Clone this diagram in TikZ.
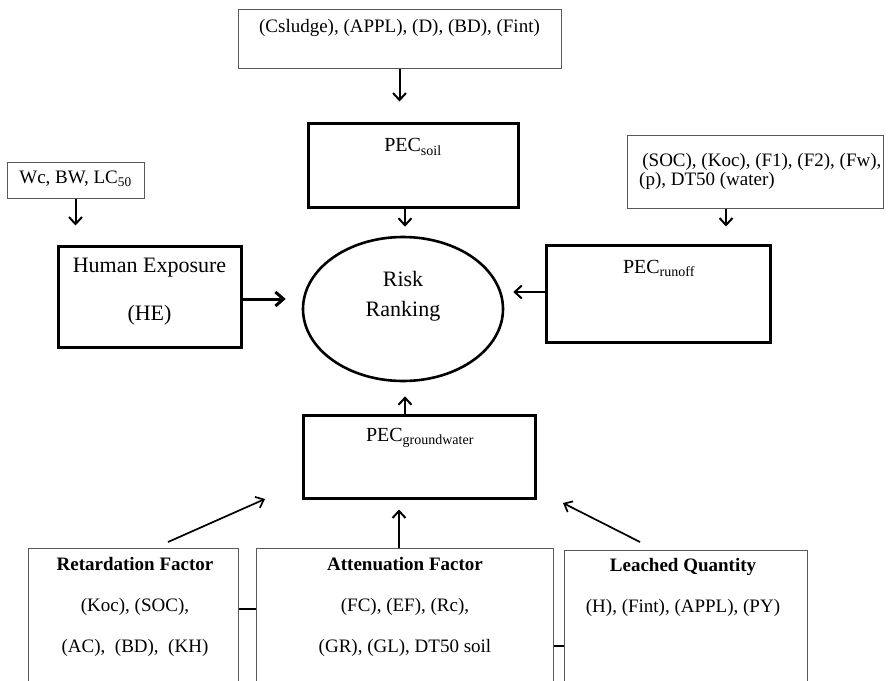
\documentclass[tikz,border=0pt]{standalone}
\usepackage{fontspec}
\setmainfont{Liberation Serif}
\usetikzlibrary{arrows.meta,shapes.geometric}
\begin{document}
\begin{tikzpicture}[x=1pt,y=-1pt,
  thinbox/.style={draw=black!65,line width=1pt,inner sep=0pt,fill=white},
  thickbox/.style={draw=black,line width=3pt,inner sep=0pt},
  txt/.style={inner sep=0pt,font=\fontsize{19}{23}\selectfont},
  bigtxt/.style={inner sep=0pt,font=\fontsize{22}{26}\selectfont},
  arr/.style={line width=2pt,-{Straight Barb[length=7pt,width=13pt,line width=2pt]}},
  bigarr/.style={line width=3pt,-{Straight Barb[length=8pt,width=14pt,line width=3pt]}},
  diagarr/.style={line width=1.7pt,-{Straight Barb[length=7pt,width=12pt,line width=1.7pt]}},
  link/.style={line width=2.2pt}
]
\useasboundingbox[fill=white] (0,0) rectangle (888,680);
\begin{scope}
\clip (0,0) rectangle (888,680);
% boxes
\node[thinbox,minimum width=323pt,minimum height=59pt] (topbox) at (399.5,38.5) {};
\node[thickbox,minimum width=210pt,minimum height=84pt] (soil) at (413,165) {};
\node[thinbox,minimum width=137pt,minimum height=36pt] (wc) at (75.5,180) {};
\node[thickbox,minimum width=183pt,minimum height=101pt] (he) at (149.5,296.5) {};
\node[thinbox,minimum width=256pt,minimum height=73pt] (param) at (755,171.5) {};
\node[thickbox,minimum width=224pt,minimum height=97pt] (runoff) at (658,293.5) {};
\node[draw=black,line width=2.6pt,ellipse,minimum width=200pt,minimum height=144pt,inner sep=0pt] (risk) at (403,309) {};
\node[thickbox,minimum width=232pt,minimum height=83pt] (gw) at (419,456.5) {};
\node[thinbox,minimum width=210pt,minimum height=160pt,anchor=north] (ret) at (133,548) {};
\node[thinbox,minimum width=297pt,minimum height=160pt,anchor=north] (att) at (404.5,548) {};
\node[thinbox,minimum width=243pt,minimum height=160pt,anchor=north] (leach) at (685.5,550) {};
% texts
\node[txt] (toptxt) at (399.5,28) {(Csludge), (APPL), (D), (BD), (Fint)};
\node[inner sep=0pt,font=\fontsize{20}{24}\selectfont] (soiltxt) at (413,147) {PEC\textsubscript{soil}};
\node[txt] (wctxt) at (75.5,179) {Wc, BW, LC\textsubscript{50}};
\node[bigtxt] (hetxt1) at (149.5,268) {Human Exposure};
\node[bigtxt] (hetxt2) at (149.5,315) {(HE)};
\node[txt,align=left,anchor=west,font=\fontsize{19}{19}\selectfont] (paramtxt) at (639,171) {\,(SOC), (Koc), (F1), (F2), (Fw),\\(p), DT50 (water)};
\node[inner sep=0pt,font=\fontsize{20}{24}\selectfont] (runofftxt) at (659,268) {PEC\textsubscript{runoff}};
\node[bigtxt,align=center,font=\fontsize{22}{30}\selectfont] (risktxt) at (403,296) {Risk\\Ranking};
\node[inner sep=0pt,font=\fontsize{20}{24}\selectfont] (gwtxt) at (420,438) {PEC\textsubscript{groundwater}};
\node[txt,align=center,font=\fontsize{19}{41}\selectfont] (rettxt) at (135,607) {\textbf{Retardation Factor}\\(Koc), (SOC),\\(AC),\ \ (BD),\ \ (KH)};
\node[txt,align=center,font=\fontsize{19}{41}\selectfont] (atttxt) at (405,607) {\textbf{Attenuation Factor}\\(FC), (EF), (Rc),\\(GR), (GL), DT50 soil};
\node[txt,align=center,font=\fontsize{19}{41}\selectfont] (leachtxt) at (683,587) {\textbf{Leached Quantity}\\(H), (Fint), (APPL), (PY)};
% connectors
\draw[arr] (topbox.south) -- ([yshift=20pt]soil.north -| topbox.south);
\draw[arr] (soil.south -| 405,0) -- ([yshift=9pt]risk.north -| 405,0);
\draw[arr] (wc.south) -- ([yshift=19pt]he.north -| wc.south);
\draw[bigarr] (he.east |- 0,299) -- ([xshift=-16pt]risk.west |- 0,299);
\draw[arr] (param.south -| 726,0) -- ([yshift=17pt]runoff.north -| 726,0);
\draw[arr] (runoff.west |- 0,292) -- ([xshift=9pt]risk.east |- 0,292);
\draw[arr] (gw.north -| 405,0) -- ([yshift=-14pt]risk.south -| 405,0);
\draw[arr] (att.north -| 399,0) -- ([yshift=-10pt]gw.south -| 399,0);
\coordinate (rettip) at (265,499);
\coordinate (retstart) at (168,542);
\coordinate (leachtip) at (563,503);
\coordinate (leachstart) at (640,542);
\draw[diagarr] (retstart) -- (rettip);
\draw[diagarr] (leachstart) -- (leachtip);
\draw[link] (ret.east |- 0,609) -- (att.west |- 0,609);
\draw[link] (att.east |- 0,646) -- (leach.west |- 0,646);
\end{scope}
\end{tikzpicture}
\end{document}
